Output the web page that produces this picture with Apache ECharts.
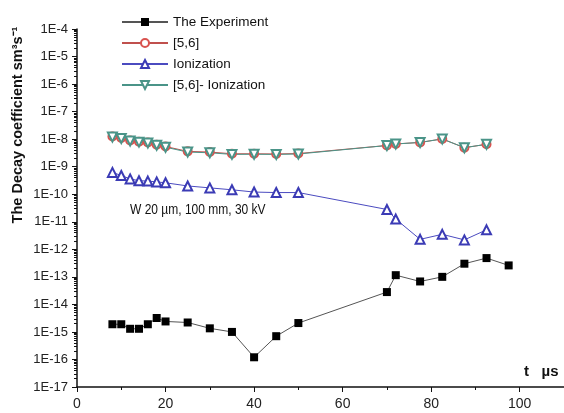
<!DOCTYPE html>
<html><head><meta charset="utf-8">
<script src="https://cdn.jsdelivr.net/npm/echarts@6/dist/echarts.min.js"></script>
<style>html,body{margin:0;padding:0;background:#fff}#c{width:564px;height:413px}</style>
</head><body><div id="c"></div>
<script>
var tExp = [8,10,12,14,16,18,20,25,30,35,40,45,50,70,72,77.5,82.5,87.5,92.5,97.5];
var experiment = [1.9e-15,1.9e-15,1.3e-15,1.3e-15,1.9e-15,3.2e-15,2.4e-15,2.2e-15,1.35e-15,1.0e-15,1.2e-16,7e-16,2.1e-15,2.8e-14,1.15e-13,6.8e-14,1.0e-13,3.0e-13,4.8e-13,2.6e-13];
var tTheory = [8,10,12,14,16,18,20,25,30,35,40,45,50,70,72,77.5,82.5,87.5,92.5];
var ref56 = [1.25e-8,1.1e-8,9e-9,8.1e-9,7.6e-9,6.3e-9,5.4e-9,3.6e-9,3.4e-9,2.95e-9,2.95e-9,2.9e-9,3.0e-9,5.9e-9,6.7e-9,7.6e-9,1.02e-8,4.9e-9,6.5e-9];
var ionization = [6.2e-10,4.8e-10,3.6e-10,3.1e-10,3.0e-10,2.8e-10,2.6e-10,2.0e-10,1.7e-10,1.45e-10,1.2e-10,1.15e-10,1.15e-10,2.8e-11,1.25e-11,2.3e-12,3.5e-12,2.2e-12,5.1e-12];
var ref56MinusIon = [1.19e-8,1.05e-8,8.6e-9,7.8e-9,7.3e-9,6.0e-9,5.1e-9,3.4e-9,3.2e-9,2.8e-9,2.83e-9,2.79e-9,2.89e-9,5.87e-9,6.69e-9,7.6e-9,1.02e-8,4.9e-9,6.5e-9];
var seriesNames = ['The Experiment','[5,6]','Ionization','[5,6]- Ionization'];

function pairs(xs, ys){ return xs.map(function(x,i){ return [x, ys[i]]; }); }
var font = '"Liberation Sans",Arial,sans-serif';
var chart = echarts.init(document.getElementById('c'), null, {renderer:'canvas'});
chart.setOption({
  animation:false,
  backgroundColor:'#fff',
  grid:{left:77, right:0, top:29, bottom:26, containLabel:false},
  legend:{
    orient:'vertical', left:116, top:10, itemWidth:46, itemHeight:10, itemGap:7,
    textStyle:{fontFamily:font, fontSize:13.5, color:'#111'},
    data:seriesNames
  },
  xAxis:{
    type:'value', min:0, max:110, interval:20,
    axisLine:{lineStyle:{color:'#111', width:1.5}},
    axisTick:{length:5, lineStyle:{color:'#111'}},
    minorTick:{show:true, splitNumber:2, length:3, lineStyle:{color:'#111'}},
    splitLine:{show:false},
    axisLabel:{fontFamily:font, fontSize:14, color:'#222', showMaxLabel:false, margin:10}
  },
  yAxis:{
    type:'log', logBase:10, min:1e-17, max:1e-4, interval:1,
    axisLine:{show:true, lineStyle:{color:'#111', width:1.5}},
    axisTick:{length:5, lineStyle:{color:'#111'}},
    minorTick:{show:true, splitNumber:9, length:3, lineStyle:{color:'#111'}},
    splitLine:{show:false},
    axisLabel:{fontFamily:font, fontSize:13, color:'#222', margin:9,
      formatter:function(v){ return '1E' + Math.round(Math.log10(v)); }}
  },
  graphic:[
    {type:'text', x:18, y:125, rotation:Math.PI/2, style:{text:'The Decay coefficient sm\u00b3s\u207b\u00b9', font:'bold 14.5px '+font, fill:'#111', align:'center', verticalAlign:'middle'}},
    {type:'text', x:130, y:210, scaleX:0.8, style:{text:'W 20 \u00b5m, 100 mm, 30 kV', font:'15px '+font, fill:'#111', verticalAlign:'middle'}},
    {type:'text', x:524, y:372, style:{text:'t   \u00b5s', font:'bold 15px '+font, fill:'#111', verticalAlign:'middle'}}
  ],
  series:[
    {name:seriesNames[0], type:'line', data:pairs(tExp, experiment), symbol:'rect', symbolSize:8,
     itemStyle:{color:'#000'}, lineStyle:{color:'#555', width:1}},
    {name:seriesNames[1], type:'line', data:pairs(tTheory, ref56), symbol:'emptyCircle', symbolSize:8,
     itemStyle:{color:'#d9534f', borderWidth:1.2}, lineStyle:{color:'#c0504d', width:1}},
    {name:seriesNames[2], type:'line', data:pairs(tTheory, ionization), symbol:'emptyTriangle', symbolSize:9,
     itemStyle:{color:'#3b3bb5', borderWidth:1.2}, lineStyle:{color:'#4b4bc0', width:1}},
    {name:seriesNames[3], type:'line', data:pairs(tTheory, ref56MinusIon), symbol:'emptyTriangle', symbolRotate:180, symbolSize:9,
     itemStyle:{color:'#4a9488', borderWidth:1.2}, lineStyle:{color:'#4a9488', width:1}}
  ]
});
</script></body></html>
